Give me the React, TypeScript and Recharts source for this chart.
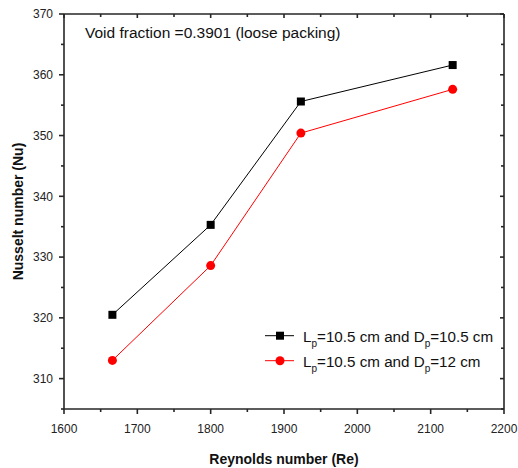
import React from "react";
import { LineChart, Line, XAxis, YAxis, Customized } from "recharts";

const reynolds = [1666, 1800, 1923, 2130];
const nuLp105Dp105 = [320.5, 335.3, 355.6, 361.6];
const nuLp105Dp12 = [313.0, 328.6, 350.4, 357.6];

const xMajorTicks = [1600, 1700, 1800, 1900, 2000, 2100, 2200];
const xMinorTicks = [1650, 1750, 1850, 1950, 2050, 2150];
const yMajorTicks = [310, 320, 330, 340, 350, 360, 370];
const yMinorTicks = [305, 315, 325, 335, 345, 355, 365];

const annotation = "Void fraction =0.3901 (loose packing)";
const xTitle = "Reynolds number (Re)";
const yTitle = "Nusselt number (Nu)";

const data = reynolds.map((re, i) => ({
  re,
  s1: nuLp105Dp105[i],
  s2: nuLp105Dp12[i],
}));

const xAll = [...xMajorTicks, ...xMinorTicks].sort((a, b) => a - b);
const yAll = [...yMajorTicks, ...yMinorTicks].sort((a, b) => a - b);

const AX = "#262626";
const AXW = 1.6;
const FONT = "'Liberation Sans', Arial, sans-serif";

const BottomTick = (p: any) => {
  const major = xMajorTicks.includes(p.payload.value);
  const len = major ? 5 : 3;
  return (
    <g>
      <line x1={p.x} y1={p.y} x2={p.x} y2={p.y + len} stroke={AX} strokeWidth={AXW} />
      {major && (
        <text x={p.x} y={p.y + 24} textAnchor="middle" fontSize={12} fontFamily={FONT} fill="#222">
          {p.payload.value}
        </text>
      )}
    </g>
  );
};

const TopTick = (p: any) => {
  const major = xMajorTicks.includes(p.payload.value);
  const len = major ? 4 : 3;
  return <line x1={p.x} y1={p.y} x2={p.x} y2={p.y + len} stroke={AX} strokeWidth={AXW} />;
};

const LeftTick = (p: any) => {
  const major = yMajorTicks.includes(p.payload.value);
  const len = major ? 5 : 3;
  return (
    <g>
      <line x1={p.x - len} y1={p.y} x2={p.x} y2={p.y} stroke={AX} strokeWidth={AXW} />
      {major && (
        <text x={p.x - 11} y={p.y} dy="0.36em" textAnchor="end" fontSize={12} fontFamily={FONT} fill="#222">
          {p.payload.value}
        </text>
      )}
    </g>
  );
};

const RightTick = (p: any) => {
  const major = yMajorTicks.includes(p.payload.value);
  const len = major ? 4 : 3;
  return <line x1={p.x - len} y1={p.y} x2={p.x} y2={p.y} stroke={AX} strokeWidth={AXW} />;
};

const SquareDot = (p: any) => {
  if (p.cx == null || p.cy == null) return <g key={p.key} />;
  return <rect key={p.key} x={p.cx - 4} y={p.cy - 4} width={8} height={8} fill="#000" />;
};

const XTitle = (p: any) => {
  const vb = p.viewBox;
  return (
    <text x={vb.x + vb.width / 2} y={vb.y + 55} textAnchor="middle" fontSize={14} fontWeight="bold" fontFamily={FONT} fill="#111">
      {xTitle}
    </text>
  );
};

const YTitle = (p: any) => {
  const vb = p.viewBox;
  const cx = vb.x + 23;
  const cy = vb.y + vb.height / 2;
  return (
    <text x={cx} y={cy} transform={`rotate(-90, ${cx}, ${cy})`} textAnchor="middle" fontSize={14} fontWeight="bold" fontFamily={FONT} fill="#111">
      {yTitle}
    </text>
  );
};

const LegendRow = ({ y, color, marker, dp }: any) => (
  <g>
    <line x1={265} y1={y} x2={294} y2={y} stroke={color} strokeWidth={1} />
    {marker === "square" ? (
      <rect x={276} y={y - 4} width={8} height={8} fill={color} />
    ) : (
      <circle cx={280} cy={y} r={4.5} fill={color} />
    )}
    <text x={303} y={y + 6} fontSize={15.2} fontFamily={FONT} fill="#111">
      L
      <tspan dy={5} fontSize={10}>p</tspan>
      <tspan dy={-5}>=10.5 cm and D</tspan>
      <tspan dy={5} fontSize={10}>p</tspan>
      <tspan dy={-5}>{`=${dp} cm`}</tspan>
    </text>
  </g>
);

const Overlay = () => (
  <g>
    <text x={85} y={37.5} fontSize={15.5} fontFamily={FONT} fill="#111">
      {annotation}
    </text>
    <LegendRow y={335.7} color="#000" marker="square" dp="10.5" />
    <LegendRow y={360.7} color="#ff0000" marker="circle" dp="12" />
  </g>
);

export default function App() {
  return (
    <div style={{ position: "absolute", left: 0, top: 0, width: 518, height: 468, background: "#fff" }}>
      <LineChart width={518} height={468} data={data} margin={{ top: 14, right: 14, bottom: 0, left: 0 }}>
        <XAxis
          xAxisId="b"
          type="number"
          dataKey="re"
          domain={[1600, 2200]}
          ticks={xAll}
          interval={0}
          tickSize={0}
          tickMargin={0}
          tickLine={false}
          tick={BottomTick}
          axisLine={{ stroke: AX, strokeWidth: AXW }}
          height={59}
          allowDataOverflow
          label={<XTitle />}
        />
        <XAxis
          xAxisId="t"
          orientation="top"
          type="number"
          dataKey="re"
          domain={[1600, 2200]}
          ticks={xAll}
          interval={0}
          mirror
          height={1}
          tickSize={0}
          tickMargin={0}
          tickLine={false}
          tick={TopTick}
          axisLine={{ stroke: AX, strokeWidth: AXW }}
          allowDataOverflow
        />
        <YAxis
          yAxisId="l"
          type="number"
          domain={[305, 370]}
          ticks={yAll}
          interval={0}
          width={64}
          tickSize={0}
          tickMargin={0}
          tickLine={false}
          tick={LeftTick}
          axisLine={{ stroke: AX, strokeWidth: AXW }}
          allowDataOverflow
          label={<YTitle />}
        />
        <YAxis
          yAxisId="r"
          orientation="right"
          type="number"
          domain={[305, 370]}
          ticks={yAll}
          interval={0}
          mirror
          width={1}
          tickSize={0}
          tickMargin={0}
          tickLine={false}
          tick={RightTick}
          axisLine={{ stroke: AX, strokeWidth: AXW }}
          allowDataOverflow
        />
        <Line
          xAxisId="b"
          yAxisId="l"
          dataKey="s1"
          stroke="#000"
          strokeWidth={1}
          dot={SquareDot}
          activeDot={false}
          isAnimationActive={false}
        />
        <Line
          xAxisId="b"
          yAxisId="l"
          dataKey="s2"
          stroke="#ff0000"
          strokeWidth={1}
          dot={{ r: 4.5, fill: "#ff0000", stroke: "#ff0000", strokeWidth: 0 }}
          activeDot={false}
          isAnimationActive={false}
        />
        <Customized component={Overlay} />
      </LineChart>
    </div>
  );
}
